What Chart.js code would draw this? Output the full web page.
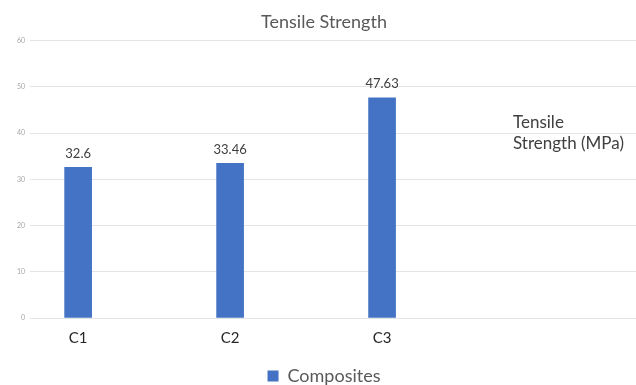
<!DOCTYPE html>
<html>
<head>
<meta charset="utf-8">
<script src="https://cdn.jsdelivr.net/npm/chart.js@4"></script>
<style>
  html, body { margin: 0; padding: 0; background: #fff; }
  #wrap { width: 636px; height: 385px; }
</style>
</head>
<body>
<div id="wrap"><canvas id="chart"></canvas></div>
<script>
const categories = ["C1", "C2", "C3"];
const values = [32.6, 33.46, 47.63];
const valueLabels = ["32.6", "33.46", "47.63"];
const yTicks = [0, 10, 20, 30, 40, 50, 60];
const sideNote = ["Tensile", "Strength (MPa)"];

// value labels above bars + the loose side note
const labelPlugin = {
  id: "labels",
  afterDatasetsDraw(chart) {
    const ctx = chart.ctx;
    const meta = chart.getDatasetMeta(0);
    ctx.save();
    ctx.font = "13px Lato";
    ctx.fillStyle = "#404040";
    ctx.textAlign = "center";
    ctx.textBaseline = "bottom";
    meta.data.forEach((bar, i) => {
      ctx.fillText(valueLabels[i], bar.x, bar.y - 7);
    });
    ctx.font = "17px Lato";
    ctx.textAlign = "left";
    ctx.textBaseline = "middle";
    ctx.fillText(sideNote[0], 513, 123);
    ctx.fillText(sideNote[1], 513, 144);
    ctx.restore();
  }
};

function createChart() {
  const ctx = document.getElementById("chart").getContext("2d");
  new Chart(ctx, {
    type: "bar",
    data: {
      datasets: [{
        label: "Composites",
        data: values.map((v, i) => ({ x: i + 1, y: v })),
        backgroundColor: "#4472c4",
        barThickness: 27
      }]
    },
    options: {
      responsive: true,
      maintainAspectRatio: false,
      animation: false,
      layout: { padding: { left: 12, right: 0, top: 7, bottom: -10 } },
      scales: {
        x: {
          type: "linear",
          offset: false,
          min: 0.684,
          max: 4.671,
          afterBuildTicks: axis => { axis.ticks = categories.map((c, i) => ({ value: i + 1 })); },
          afterFit: axis => { axis.height = 45; },
          ticks: {
            autoSkip: false,
            maxRotation: 0,
            color: "#262626",
            font: { family: "Lato", size: 15 },
            padding: 3,
            callback: v => categories[v - 1] || ""
          },
          grid: { display: false, offset: false },
          border: { display: false }
        },
        y: {
          min: 0,
          max: 60,
          afterBuildTicks: axis => { axis.ticks = yTicks.map(v => ({ value: v })); },
          ticks: { color: "#a6a6a6", font: { family: "Lato", size: 7 }, padding: 5 },
          grid: { color: "#e4e4e4", drawTicks: false },
          border: { display: false }
        }
      },
      plugins: {
        title: {
          display: true,
          text: "Tensile Strength",
          color: "#595959",
          font: { family: "Lato", size: 18, weight: "normal" },
          padding: { top: 4, bottom: 8 }
        },
        legend: {
          position: "bottom",
          labels: {
            color: "#595959",
            font: { family: "Lato", size: 18 },
            boxWidth: 11,
            boxHeight: 11,
            padding: 4
          }
        },
        tooltip: { enabled: false }
      }
    },
    plugins: [labelPlugin]
  });
}

window.onload = createChart;
</script>
</body>
</html>
